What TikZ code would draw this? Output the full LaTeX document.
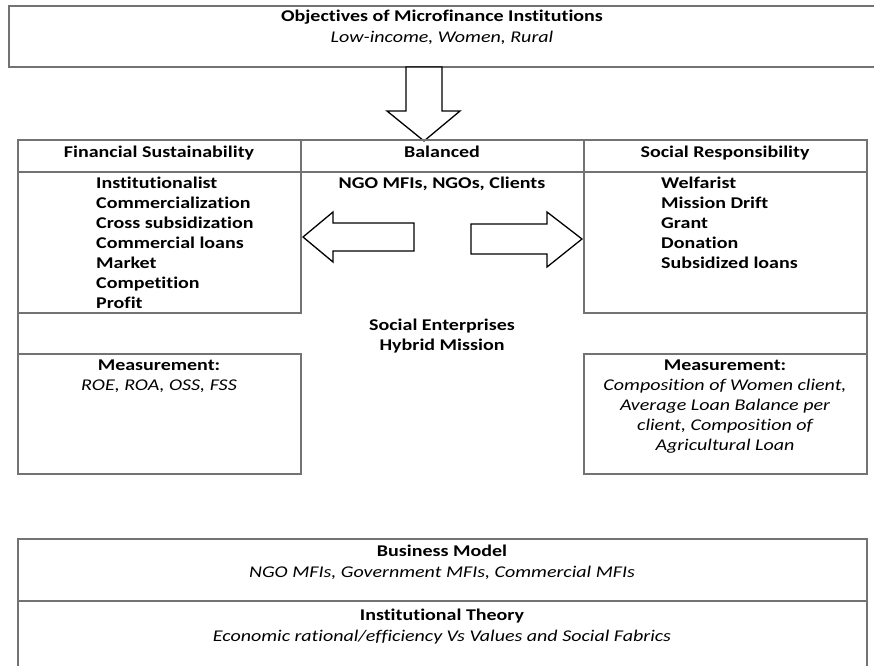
\documentclass[tikz,border=0pt]{standalone}
\usepackage{fontspec}
\setmainfont[FakeStretch=1.22, Ligatures=NoCommon]{Carlito}
\newcommand{\figfont}{\fontsize{16.4}{20}\selectfont}
\tikzset{frame/.style={draw=black!55, line width=1.2pt}}
\tikzset{blockarrow/.style={draw=black, line width=1.3pt, fill=white, line join=miter}}
\tikzset{bf/.style={inner sep=0pt, anchor=base, font=\figfont\bfseries}}
\tikzset{it/.style={inner sep=0pt, anchor=base, font=\figfont\itshape}}
\tikzset{item/.style={inner sep=0pt, anchor=base west, font=\figfont\bfseries}}
\begin{document}
\begin{tikzpicture}[x=1pt,y=-1pt]
		\useasboundingbox (0,0) rectangle (874,665);
		\clip (0,0) rectangle (874,665);
		\draw[frame] (9,6) rectangle (880,67);
		\node[bf] (objtitle) at (442,21) {Objectives of Microfinance Institutions};
		\node[it] (objtext) at (442,42) {Low-income, Women, Rural};
		\draw[blockarrow] (406,67) -- (406,111) -- (387,111) -- (424,141) -- (460,111) -- (442,111) -- (442,67) -- cycle;
		\draw[frame] (18,140) rectangle (301,313);
		\draw[frame] (584,140) rectangle (867,313);
		\draw[frame] (301,140) -- (584,140);
		\draw[frame] (18,172) -- (867,172);
		\draw[frame] (18,313) -- (18,354);
		\draw[frame] (867,313) -- (867,354);
		\draw[frame] (18,354) rectangle (301,474);
		\draw[frame] (584,354) rectangle (867,474);
		\node[bf] (finhead) at (159,157) {Financial Sustainability};
		\node[bf] (balhead) at (442,157) {Balanced};
		\node[bf] (sochead) at (725,157) {Social Responsibility};
		\node[bf] (baltext) at (442,188) {NGO MFIs, NGOs, Clients};
		\foreach \w [count=\i] in {Institutionalist, Commercialization, Cross subsidization, Commercial loans, Market, Competition, Profit}
			\node[item] (fin\i) at (96,168+20*\i) {\w};
		\foreach \w [count=\i] in {Welfarist, Mission Drift, Grant, Donation, Subsidized loans}
			\node[item] (soc\i) at (661,168+20*\i) {\w};
		\draw[blockarrow] (303,237) -- (333,212) -- (333,223) -- (414,223) -- (414,251) -- (333,251) -- (333,262) -- cycle;
		\draw[blockarrow] (471,224) -- (547,224) -- (547,212) -- (582,239) -- (547,267) -- (547,254) -- (471,254) -- cycle;
		\node[bf] (hybrid1) at (442,330) {Social Enterprises};
		\node[bf] (hybrid2) at (442,350) {Hybrid Mission};
		\node[bf] (finmeas) at (159,370) {Measurement:};
		\node[it] (finmeas1) at (159,390) {ROE, ROA, OSS, FSS};
		\node[bf] (socmeas) at (725,370) {Measurement:};
		\foreach \w [count=\i] in {{Composition of Women client,}, Average Loan Balance per, {client, Composition of}, Agricultural Loan}
			\node[it] (socmeas\i) at (725,370+20*\i) {\w};
		\draw[frame] (18,539) rectangle (867,700);
		\draw[frame] (18,601) -- (867,601);
		\node[bf] (bmhead) at (442,556) {Business Model};
		\node[it] (bmtext) at (442,577) {NGO MFIs, Government MFIs, Commercial MFIs};
		\node[bf] (ithead) at (442,620) {Institutional Theory};
		\node[it] (ittext) at (442,641) {Economic rational/efficiency Vs Values and Social Fabrics};
		\end{tikzpicture}
\end{document}
